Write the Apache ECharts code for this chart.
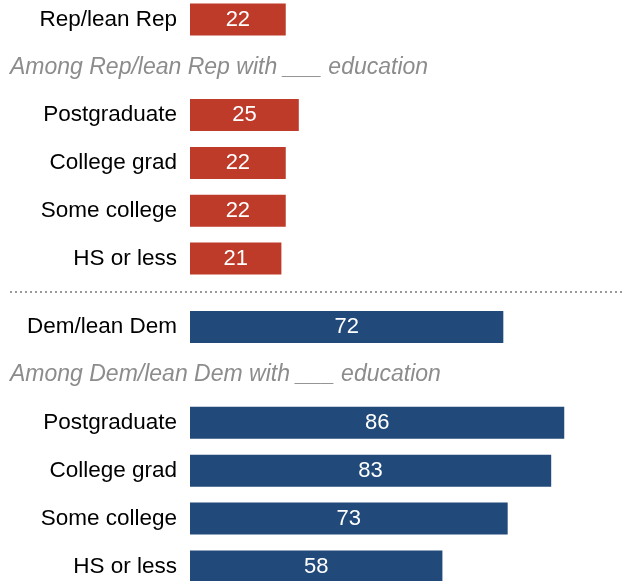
<!DOCTYPE html>
<html>
<head>
<meta charset="utf-8">
<script src="https://cdn.jsdelivr.net/npm/echarts@6/dist/echarts.min.js"></script>
<style>
  html, body { margin: 0; padding: 0; background: #fff; }
  #chart { width: 623px; height: 581px; }
</style>
</head>
<body>
<div id="chart"></div>
<script>
// Rows of each party block; the second row is a subheading with no bar
const repCategories = ['Rep/lean Rep', 'Among Rep/lean Rep with ___ education', 'Postgraduate', 'College grad', 'Some college', 'HS or less'];
const repValues = [22, null, 25, 22, 22, 21];
const demCategories = ['Dem/lean Dem', 'Among Dem/lean Dem with ___ education', 'Postgraduate', 'College grad', 'Some college', 'HS or less'];
const demValues = [72, null, 86, 83, 73, 58];
const subheadRows = [1];

const FONT = '"Liberation Sans", Arial, sans-serif';
const RED = '#BE3A29';
const BLUE = '#214A7B';

function categoryAxis(gridIndex, cats) {
  return {
    type: 'category',
    gridIndex: gridIndex,
    inverse: true,
    boundaryGap: false,
    data: cats,
    axisLine: { show: false },
    axisTick: { show: false },
    splitLine: { show: false },
    axisLabel: {
      margin: 180,
      align: 'left',
      width: 167,
      overflow: 'none',
      formatter: function (v, i) {
        return subheadRows.indexOf(i) >= 0 ? '{s|' + v + '}' : '{n|' + v + '}';
      },
      rich: {
        n: { fontFamily: FONT, fontSize: 22.5, color: '#000', align: 'right' },
        s: { fontFamily: FONT, fontSize: 23, color: '#8c8c8c', fontStyle: 'italic', align: 'left' }
      }
    }
  };
}

function valueAxis(gridIndex) {
  return {
    type: 'value',
    gridIndex: gridIndex,
    min: 0,
    max: 99.5,
    show: false
  };
}

function barSeries(idx, values, color) {
  return {
    type: 'bar',
    xAxisIndex: idx,
    yAxisIndex: idx,
    data: values,
    barWidth: 32,
    itemStyle: { color: color },
    label: {
      show: true,
      position: 'inside',
      color: '#fff',
      fontFamily: FONT,
      fontSize: 22,
      formatter: function (p) { return p.value; }
    },
    silent: true
  };
}

const chart = echarts.init(document.getElementById('chart'));
chart.setOption({
  backgroundColor: '#fff',
  animation: false,
  grid: [
    { left: 190, right: 0, top: 19.5, height: 239 },
    { left: 190, right: 0, top: 327, height: 239.5 }
  ],
  xAxis: [valueAxis(0), valueAxis(1)],
  yAxis: [categoryAxis(0, repCategories), categoryAxis(1, demCategories)],
  series: [barSeries(0, repValues, RED), barSeries(1, demValues, BLUE)],
  graphic: [{
    type: 'line',
    shape: { x1: 10, y1: 292, x2: 623, y2: 292 },
    style: { stroke: '#9a9a9a', lineWidth: 2, lineDash: [2, 3] },
    silent: true
  }]
});
</script>
</body>
</html>
